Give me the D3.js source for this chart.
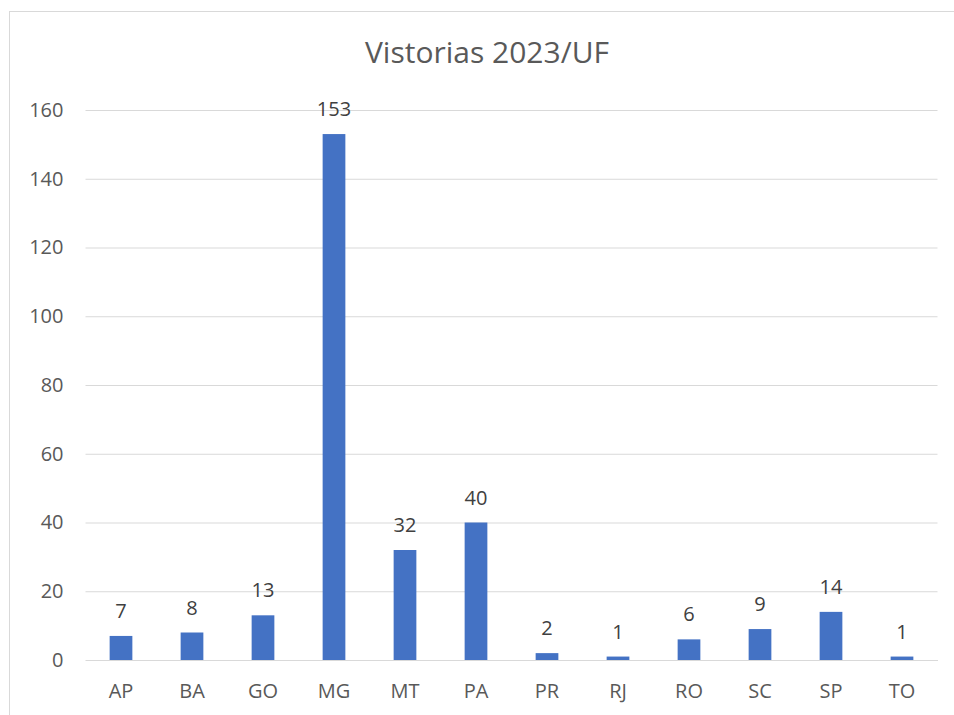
<!DOCTYPE html>
<html>
<head>
<meta charset="utf-8">
<script src="https://cdn.jsdelivr.net/npm/d3@7"></script>
<style>
  body { margin: 0; background: #fff; }
  text { font-family: "Open Sans", "Noto Sans", sans-serif; }
</style>
</head>
<body>
<div id="chart"></div>
<script>
const width = 954;
const height = 715;
const margin = { top: 110, right: 16.5, bottom: 55, left: 85.5 };

const title = 'Vistorias 2023/UF';
const categories = ['AP', 'BA', 'GO', 'MG', 'MT', 'PA', 'PR', 'RJ', 'RO', 'SC', 'SP', 'TO'];
const values = [7, 8, 13, 153, 32, 40, 2, 1, 6, 9, 14, 1];
const yTicks = [0, 20, 40, 60, 80, 100, 120, 140, 160];

const svg = d3.select('#chart')
    .append('svg')
    .attr('width', width)
    .attr('height', height);

// moldura do grafico
svg.append('rect')
    .attr('x', 9.5)
    .attr('y', 11.5)
    .attr('width', width)
    .attr('height', height)
    .attr('fill', 'none')
    .attr('stroke', '#d9d9d9');

const x = d3.scaleBand()
    .domain(categories)
    .range([margin.left, width - margin.right])
    .paddingInner(0.68)
    .paddingOuter(0.34);

const y = d3.scaleLinear()
    .domain([0, 160])
    .range([height - margin.bottom, margin.top]);

// grelha
const yAxis = d3.axisLeft(y).tickValues(yTicks).tickSize(-(width - margin.right - margin.left)).tickPadding(22);
svg.append('g')
    .attr('class', 'y-axis')
    .attr('transform', `translate(${margin.left},0)`)
    .call(yAxis)
    .call(g => g.select('.domain').remove())
    .call(g => g.selectAll('.tick line').attr('stroke', '#d9d9d9'))
    .call(g => g.selectAll('.tick text')
        .attr('fill', '#595959')
        .style('font-size', '20px'));

const xAxis = d3.axisBottom(x).tickSize(0).tickPadding(24);
svg.append('g')
    .attr('class', 'x-axis')
    .attr('transform', `translate(0,${y(0)})`)
    .call(xAxis)
    .call(g => g.select('.domain').attr('stroke', '#d9d9d9'))
    .call(g => g.selectAll('.tick text')
        .attr('fill', '#595959')
        .style('font-size', '20px'));

svg.append('g')
    .selectAll('rect')
    .data(values)
    .join('rect')
    .attr('x', (d, i) => x(categories[i]))
    .attr('y', d => y(d))
    .attr('width', x.bandwidth())
    .attr('height', d => y(0) - y(d))
    .attr('fill', '#4472c4');

svg.append('g')
    .selectAll('text')
    .data(values)
    .join('text')
    .attr('x', (d, i) => x(categories[i]) + x.bandwidth() / 2)
    .attr('y', d => y(d) - 18)
    .attr('text-anchor', 'middle')
    .attr('fill', '#404040')
    .style('font-size', '20px')
    .text(d => d);

svg.append('text')
    .attr('x', 487)
    .attr('y', 63)
    .attr('text-anchor', 'middle')
    .attr('fill', '#595959')
    .style('font-size', '30px')
    .text(title);
</script>
</body>
</html>
